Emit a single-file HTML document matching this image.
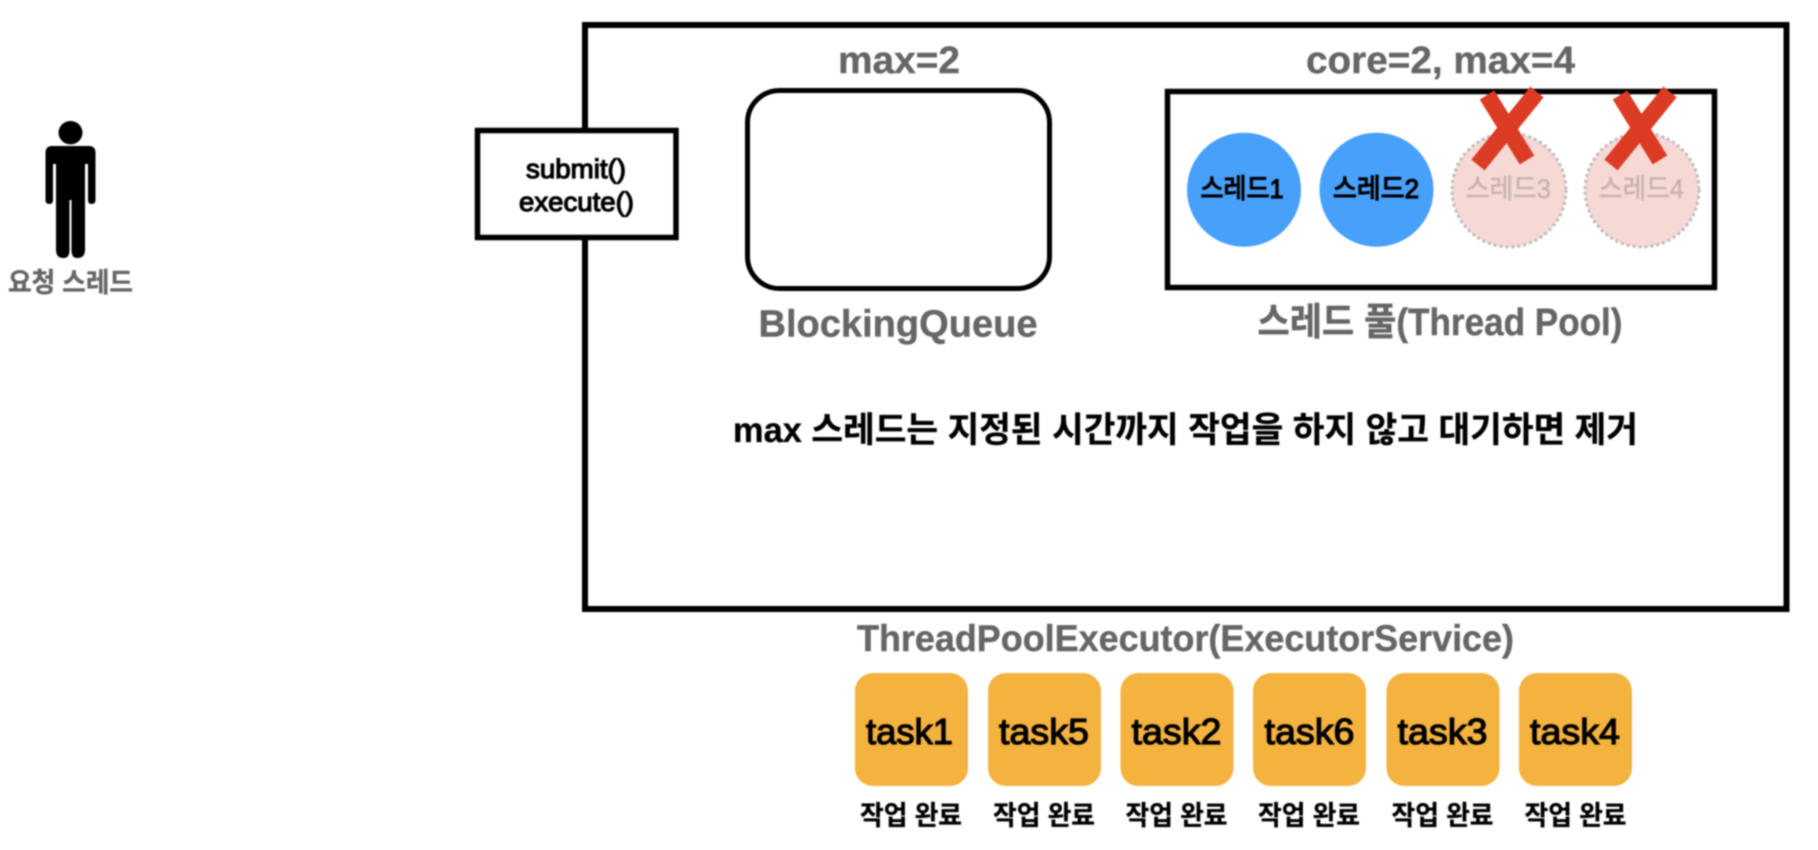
<!DOCTYPE html>
<html lang="ko">
<head>
<meta charset="utf-8">
<title>ThreadPoolExecutor</title>
<style>
html,body{margin:0;padding:0;background:#fff;width:1818px;height:850px;overflow:hidden}
svg{display:block;filter:blur(.7px)}
text{font-family:"Liberation Sans","Noto Sans CJK KR",sans-serif}
.g{fill:#666;font-weight:700;stroke:#666;stroke-width:.4px}
.k{fill:#000}
.kb{fill:#000;font-weight:700;stroke:#000;stroke-width:.3px}
.m{stroke:#000;stroke-width:1.2px}
.f{fill:#c7b3b0;stroke:#c7b3b0;stroke-width:.5px}
</style>
</head>
<body>
<svg width="1818" height="850" viewBox="0 0 1818 850" xmlns="http://www.w3.org/2000/svg">
<rect width="1818" height="850" fill="#fff"/>

<!-- person -->
<g fill="#000">
  <ellipse cx="70.5" cy="132.7" rx="12" ry="11.7"/>
  <path d="M52 146H89Q95.5 146 95.5 153V200Q95.5 204 91.5 204Q88 204 88 200V164H85V250Q85 258 77 258Q71.5 258 71.5 250V200H69.5V250Q69.5 258 63.5 258Q56 258 56 250V164H53V200Q53 204 49.5 204Q45.5 204 45.5 200V153Q45.5 146 52 146Z"/>
</g>
<text x="8" y="292" class="g" font-size="27" textLength="125" lengthAdjust="spacingAndGlyphs">요청 스레드</text>

<!-- outer rect -->
<rect x="585" y="25" width="1201.5" height="584" fill="#fff" stroke="#000" stroke-width="6"/>

<!-- submit box -->
<rect x="477.5" y="130.5" width="198.5" height="107" fill="#fff" stroke="#000" stroke-width="5.5"/>
<text x="526" y="178" class="k m" font-size="27" textLength="100" lengthAdjust="spacingAndGlyphs">submit()</text>
<text x="519" y="211" class="k m" font-size="27" textLength="115" lengthAdjust="spacingAndGlyphs">execute()</text>

<!-- blocking queue -->
<text x="838" y="73" class="g" font-size="38" textLength="122" lengthAdjust="spacingAndGlyphs">max=2</text>
<rect x="747.5" y="90.5" width="302" height="198" rx="32" ry="32" fill="#fff" stroke="#000" stroke-width="5"/>
<text x="758.5" y="336.5" class="g" font-size="38" textLength="279" lengthAdjust="spacingAndGlyphs">BlockingQueue</text>

<!-- thread pool -->
<text x="1306" y="73" class="g" font-size="38" textLength="269" lengthAdjust="spacingAndGlyphs">core=2, max=4</text>
<rect x="1167.5" y="91.5" width="547" height="196" fill="#fff" stroke="#000" stroke-width="5.5"/>
<text x="1257.5" y="335" class="g" font-size="38" textLength="365" lengthAdjust="spacingAndGlyphs">스레드 풀(Thread Pool)</text>

<circle cx="1244" cy="189.7" r="57" fill="#47a0fa"/>
<circle cx="1376.5" cy="189.7" r="57" fill="#47a0fa"/>
<circle cx="1509" cy="190" r="57" fill="#f6d8d4" stroke="#bdbdbd" stroke-width="3" stroke-dasharray="3 3"/>
<circle cx="1642" cy="190" r="57" fill="#f6d8d4" stroke="#bdbdbd" stroke-width="3" stroke-dasharray="3 3"/>

<text x="1200.5" y="198" class="k m" font-size="27" textLength="83" lengthAdjust="spacingAndGlyphs">스레드1</text>
<text x="1333" y="198" class="k m" font-size="27" textLength="86" lengthAdjust="spacingAndGlyphs">스레드2</text>
<text x="1466" y="198" class="f" font-size="27" textLength="85" lengthAdjust="spacingAndGlyphs">스레드3</text>
<text x="1599" y="198" class="f" font-size="27" textLength="85" lengthAdjust="spacingAndGlyphs">스레드4</text>

<!-- red X marks -->
<g stroke="#dc3b24" stroke-width="17" fill="none">
  <path d="M1537 92L1478 165"/>
  <path d="M1487 95L1527 160"/>
  <path d="M1670 92L1611 165"/>
  <path d="M1620 95L1660 160"/>
</g>

<!-- center message -->
<text x="733" y="442" class="kb" font-size="35" textLength="905" lengthAdjust="spacingAndGlyphs">max 스레드는 지정된 시간까지 작업을 하지 않고 대기하면 제거</text>

<!-- executor label -->
<text x="857" y="651" class="g" font-size="37" textLength="657" lengthAdjust="spacingAndGlyphs">ThreadPoolExecutor(ExecutorService)</text>

<!-- tasks -->
<g fill="#f4b23e">
  <rect x="855" y="673" width="113" height="113" rx="18"/>
  <rect x="988" y="673" width="113" height="113" rx="18"/>
  <rect x="1120.5" y="673" width="113" height="113" rx="18"/>
  <rect x="1253" y="673" width="113" height="113" rx="18"/>
  <rect x="1386.5" y="673" width="113" height="113" rx="18"/>
  <rect x="1519" y="673" width="113" height="113" rx="18"/>
</g>
<g font-size="36">
  <text x="866" y="744" class="k m" textLength="87" lengthAdjust="spacingAndGlyphs">task1</text>
  <text x="999" y="744" class="k m" textLength="90" lengthAdjust="spacingAndGlyphs">task5</text>
  <text x="1131.5" y="744" class="k m" textLength="90" lengthAdjust="spacingAndGlyphs">task2</text>
  <text x="1264.5" y="744" class="k m" textLength="90" lengthAdjust="spacingAndGlyphs">task6</text>
  <text x="1397.5" y="744" class="k m" textLength="90" lengthAdjust="spacingAndGlyphs">task3</text>
  <text x="1530" y="744" class="k m" textLength="90" lengthAdjust="spacingAndGlyphs">task4</text>
</g>
<g font-size="27">
  <text x="860" y="825" class="kb" textLength="102" lengthAdjust="spacingAndGlyphs">작업 완료</text>
  <text x="993" y="825" class="kb" textLength="102" lengthAdjust="spacingAndGlyphs">작업 완료</text>
  <text x="1125.5" y="825" class="kb" textLength="102" lengthAdjust="spacingAndGlyphs">작업 완료</text>
  <text x="1258" y="825" class="kb" textLength="102" lengthAdjust="spacingAndGlyphs">작업 완료</text>
  <text x="1391.5" y="825" class="kb" textLength="102" lengthAdjust="spacingAndGlyphs">작업 완료</text>
  <text x="1524.5" y="825" class="kb" textLength="102" lengthAdjust="spacingAndGlyphs">작업 완료</text>
</g>
</svg>
</body>
</html>
